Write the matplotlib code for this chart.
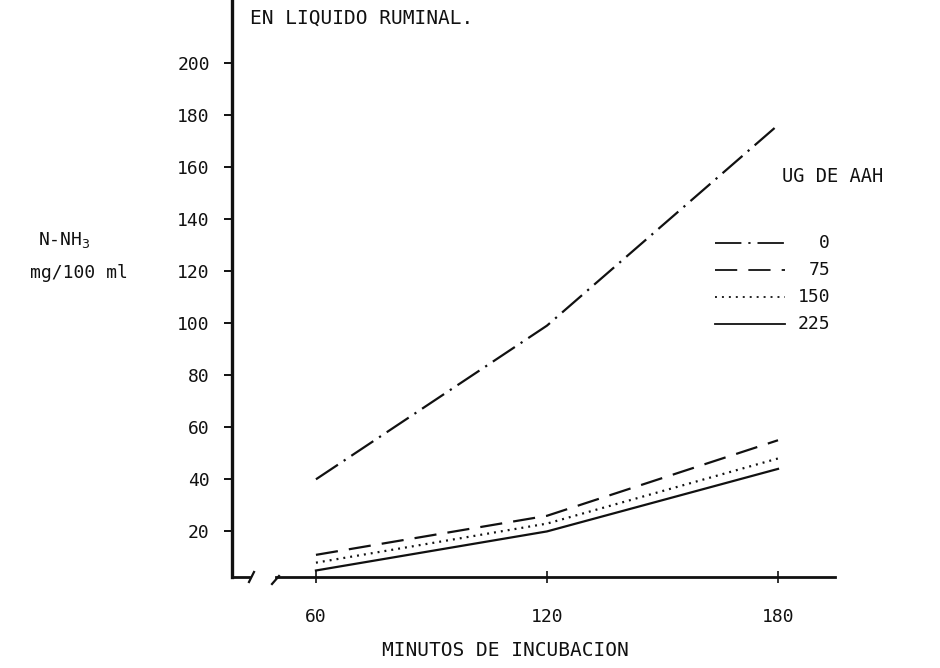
import numpy as np
import matplotlib
matplotlib.use("Agg")
import matplotlib.pyplot as plt
from matplotlib.lines import Line2D

# Datos
minutos = [60, 120, 180]
dosis = ["0", "75", "150", "225"]
nh3_0 = [40, 99, 176]
nh3_75 = [11, 26, 55]
nh3_150 = [8, 23, 48]
nh3_225 = [5, 20, 44]
y_ticks = [20, 40, 60, 80, 100, 120, 140, 160, 180, 200]

plt.rcParams['font.family'] = ['DejaVu Sans Mono']
plt.rcParams['lines.scale_dashes'] = False
ink = '#111111'

estilos = [
    dict(ls=(0, (19, 5, 1.6, 5))),
    dict(ls=(0, (16, 8))),
    dict(ls=(0, (1.4, 3.6))),
    dict(ls='-'),
]

fig = plt.figure(figsize=(9.4, 6.68), dpi=100)
W, H = 940, 668


def fx(px):
    return px / W


def fy(py):
    return 1 - py / H


ax = fig.add_axes([fx(232), fy(577), (835 - 232) / W, 577 / H])

series = [nh3_0, nh3_75, nh3_150, nh3_225]
for vals, st in zip(series, estilos):
    ax.plot(minutos, vals, color=ink, lw=1.6, **st)

ax.set_xlim(38.2, 194.8)
ax.set_ylim(2.5, 224)
ax.set_xticks(minutos)
ax.set_yticks(y_ticks)
ax.tick_params(axis='y', direction='out', length=6, width=1.4, pad=10,
               labelsize=13, colors=ink)
ax.tick_params(axis='x', direction='inout', length=8, width=1.2, pad=18,
               labelsize=13, colors=ink)

for s in ['top', 'right']:
    ax.spines[s].set_visible(False)
ax.spines['left'].set_linewidth(2.4)
ax.spines['bottom'].set_linewidth(2.0)
ax.spines['left'].set_color(ink)
ax.spines['bottom'].set_color(ink)
# eje x cortado
ax.spines['bottom'].set_bounds(49.6, 194.8)
fig.add_artist(Line2D([fx(232), fx(249)], [fy(577), fy(577)], color=ink, lw=2.0))
fig.add_artist(Line2D([fx(249), fx(254)], [fy(582), fy(572)], color=ink, lw=1.6))
fig.add_artist(Line2D([fx(272), fx(279)], [fy(584), fy(576)], color=ink, lw=1.6))

# textos
fig.text(fx(250), fy(18), "EN LIQUIDO RUMINAL.", fontsize=14, color=ink,
         va='center', ha='left')
fig.text(fx(38), fy(240), "N-NH$_3$", fontsize=13, color=ink, va='center', ha='left')
fig.text(fx(30), fy(273), "mg/100 ml", fontsize=13, color=ink, va='center', ha='left')
fig.text(fx(505), fy(651), "MINUTOS DE INCUBACION", fontsize=14, color=ink,
         va='center', ha='center')

# leyenda
fig.text(fx(782), fy(176), "UG DE AAH", fontsize=13.5, color=ink, va='center', ha='left')
leg_y = [243, 270, 297, 324]
for lab, st, py in zip(dosis, estilos, leg_y):
    fig.add_artist(Line2D([fx(715), fx(785)], [fy(py), fy(py)], color=ink, lw=1.3, **st))
    fig.text(fx(830), fy(py), lab, fontsize=13, color=ink, va='center', ha='right')

fig.savefig("out.png", dpi=100)
